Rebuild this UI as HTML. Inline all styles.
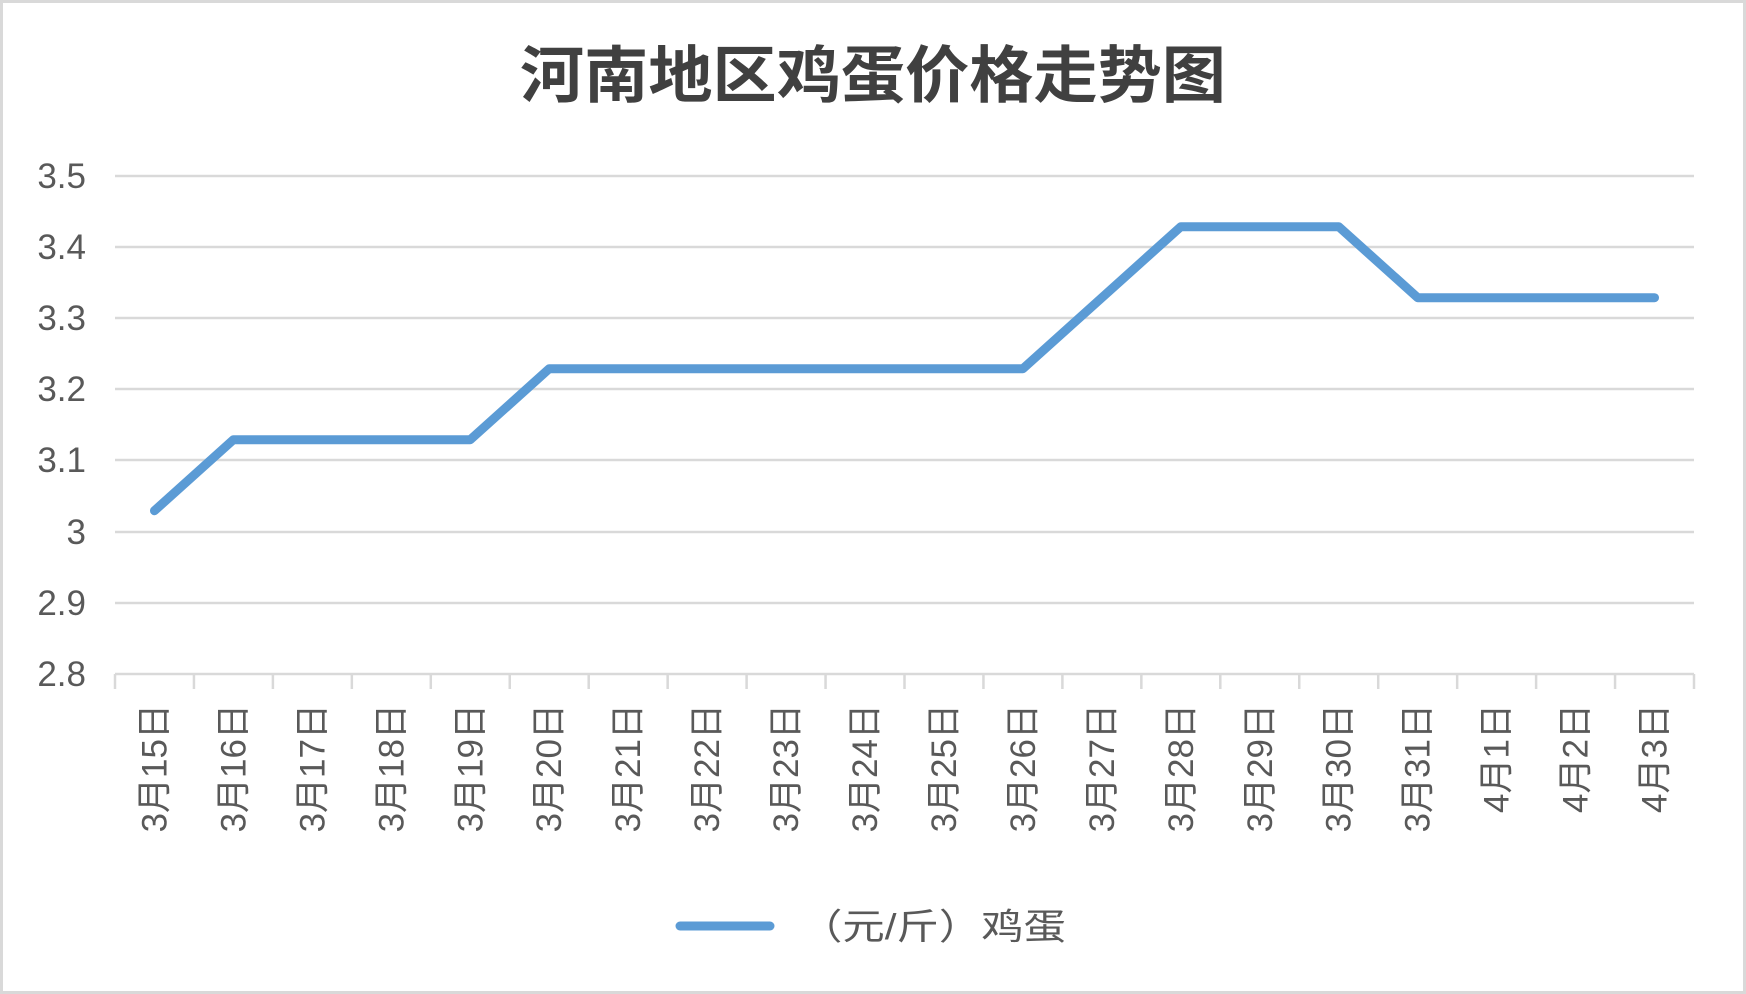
<!DOCTYPE html>
<html><head><meta charset="utf-8"><style>
html,body{margin:0;padding:0;background:#fff}
svg{display:block}
text{font-family:"Liberation Sans","Noto Sans CJK SC",sans-serif;fill:#595959}
</style></head><body>
<svg width="1746" height="994" viewBox="0 0 1746 994">
<rect x="1.5" y="1.5" width="1743" height="991" fill="#fff" stroke="#d9d9d9" stroke-width="3"/>
<text x="873" y="97" text-anchor="middle" textLength="706" lengthAdjust="spacingAndGlyphs" style="font-size:62px;font-weight:bold;fill:#404040;font-family:'Noto Sans CJK SC',sans-serif">河南地区鸡蛋价格走势图</text>
<g stroke="#d9d9d9" stroke-width="2.5">
<line x1="115" x2="1694" y1="176" y2="176"/>
<line x1="115" x2="1694" y1="247" y2="247"/>
<line x1="115" x2="1694" y1="318" y2="318"/>
<line x1="115" x2="1694" y1="389" y2="389"/>
<line x1="115" x2="1694" y1="460" y2="460"/>
<line x1="115" x2="1694" y1="532" y2="532"/>
<line x1="115" x2="1694" y1="603" y2="603"/>
<line x1="115" x2="1694" y1="674" y2="674"/>
</g>
<g stroke="#d9d9d9" stroke-width="2.5" id="ticks"></g>
<g style="font-size:35px" text-anchor="end">
<text x="86" y="188">3.5</text><text x="86" y="259">3.4</text><text x="86" y="330">3.3</text>
<text x="86" y="401">3.2</text><text x="86" y="472">3.1</text><text x="86" y="544">3</text>
<text x="86" y="615">2.9</text><text x="86" y="686">2.8</text>
</g>
<g id="xl" style="font-size:35px"></g>
<polyline fill="none" stroke="#5b9bd5" stroke-width="9" stroke-linejoin="round" stroke-linecap="round" id="ln"/>
<line x1="680" x2="770" y1="926" y2="926" stroke="#5b9bd5" stroke-width="9" stroke-linecap="round"/>
<text x="800" y="939" textLength="266" lengthAdjust="spacingAndGlyphs" style="font-size:36px">（元/斤）鸡蛋</text>
</svg>
<script>
var ns="http://www.w3.org/2000/svg";
var labels=["3月15日","3月16日","3月17日","3月18日","3月19日","3月20日","3月21日","3月22日","3月23日","3月24日","3月25日","3月26日","3月27日","3月28日","3月29日","3月30日","3月31日","4月1日","4月2日","4月3日"];
var vals=[3.03,3.13,3.13,3.13,3.13,3.23,3.23,3.23,3.23,3.23,3.23,3.23,3.33,3.43,3.43,3.43,3.33,3.33,3.33,3.33];
var x0=115,x1=1694,n=20,w=(x1-x0)/n;
var t=document.getElementById("ticks"),xl=document.getElementById("xl"),pts=[];
for(var i=0;i<=n;i++){var l=document.createElementNS(ns,"line");l.setAttribute("x1",x0+i*w);l.setAttribute("x2",x0+i*w);l.setAttribute("y1",674);l.setAttribute("y2",689);t.appendChild(l);}
for(var i=0;i<vals.length;i++){var cx=x0+w/2+i*w;pts.push(cx+","+(674-(vals[i]-2.8)*710));
var tx=document.createElementNS(ns,"text");tx.setAttribute("transform","translate("+(cx+12)+",704) rotate(-90)");tx.setAttribute("text-anchor","end");tx.textContent=labels[i];xl.appendChild(tx);}
document.getElementById("ln").setAttribute("points",pts.join(" "));
</script>
</body></html>
